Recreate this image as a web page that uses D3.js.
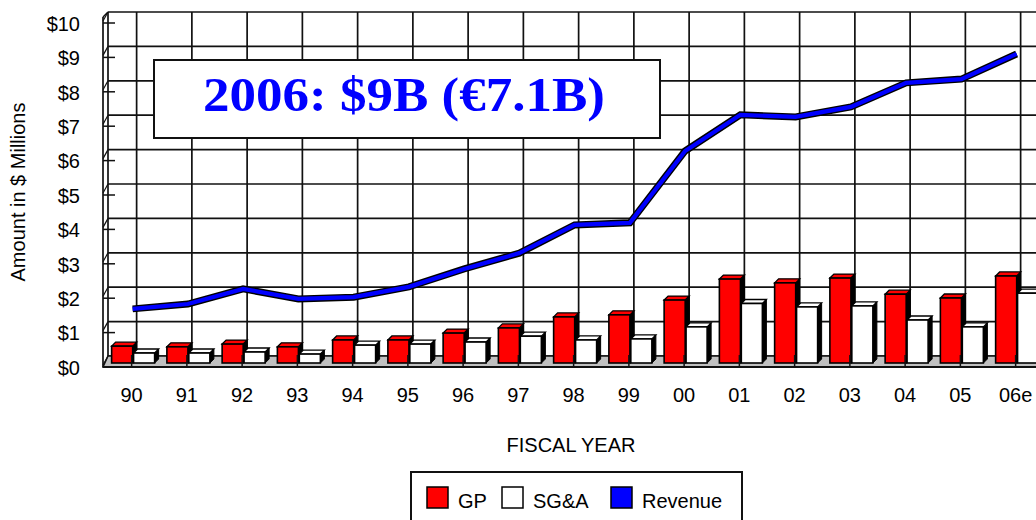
<!DOCTYPE html>
<html><head><meta charset="utf-8">
<script src="https://cdn.jsdelivr.net/npm/d3@7"></script>
<style>
html,body{margin:0;padding:0;background:#fff;overflow:hidden;}
svg{display:block;}
</style></head>
<body>
<svg id="chart" width="1036" height="520"></svg>
<script>
// ---- data ----
const years = ["90","91","92","93","94","95","96","97","98","99","00","01","02","03","04","05","06e"];
const gp = [0.49,0.47,0.55,0.47,0.67,0.67,0.87,1.02,1.34,1.40,1.83,2.44,2.33,2.47,2.00,1.89,2.53];
const sga = [0.29,0.29,0.32,0.26,0.52,0.55,0.61,0.78,0.67,0.70,1.05,1.73,1.63,1.66,1.25,1.05,2.03];
const revenue = [1.69,1.83,2.27,1.98,2.03,2.33,2.85,3.31,4.13,4.19,6.28,7.33,7.27,7.56,8.26,8.37,9.10];
const yTickValues = [0,1,2,3,4,5,6,7,8,9,10];
const yTickLabels = ["$0","$1","$2","$3","$4","$5","$6","$7","$8","$9","$10"];
const seriesNames = ["GP","SG&A","Revenue"];
const seriesColors = ["#ff0000","#ffffff","#0000ff"];
const titleText = "2006: $9B (\u20ac7.1B)";
const yTitle = "Amount in $ Millions";
const xTitle = "FISCAL YEAR";

// ---- layout ----
const svg = d3.select("#chart");
const FONT = "'Liberation Sans', Arial, sans-serif";
const x = d3.scaleBand().domain(years).range([104, 104 + 17 * 55.25]);
const cx = d => x(d) + x.bandwidth() / 2;
const y = d3.scaleLinear().domain([0, 10]).range([367, 23]);
const WX = 5, WY = -11;      // back-wall depth offset
const BY = -4;               // bar front face offset
const DX = 4, DY = -4;       // bar depth
const xSub = d3.scaleBand().domain(["GP","SG&A"]).range([-20, 23]).paddingInner(0.04);
const RIGHT = 1045;
const GRID = "#111";

// back wall grid
const grid = svg.append("g").attr("stroke", GRID).attr("stroke-width", 1.7).attr("fill", "none");
yTickValues.forEach(v => {
  grid.append("line").attr("x1", 103 + WX).attr("x2", RIGHT)
    .attr("y1", y(v) + WY).attr("y2", y(v) + WY);
});
years.forEach(d => {
  grid.append("line").attr("x1", cx(d) + WX).attr("x2", cx(d) + WX)
    .attr("y1", y(10) + WY).attr("y2", y(0) + WY);
});
grid.append("line").attr("x1", 103 + WX).attr("x2", 103 + WX).attr("y1", y(10) + WY).attr("y2", y(0) + WY);

// floor
svg.append("path")
  .attr("d", `M103,${y(0)}L${103+WX},${y(0)+WY}L${RIGHT},${y(0)+WY}L${RIGHT},${y(0)}Z`)
  .attr("fill", "#c0c0c0").attr("stroke", GRID).attr("stroke-width", 1.5);

// left front axis line + ticks
svg.append("line").attr("x1", 103).attr("x2", 103).attr("y1", y(10) - 6).attr("y2", y(0))
  .attr("stroke", GRID).attr("stroke-width", 1.7);
svg.append("line").attr("x1", 103).attr("x2", 103 + WX).attr("y1", y(10) - 6).attr("y2", y(10) + WY)
  .attr("stroke", GRID).attr("stroke-width", 1.5);
yTickValues.forEach(v => {
  svg.append("line").attr("x1", 103).attr("x2", 115).attr("y1", y(v)).attr("y2", y(v))
    .attr("stroke", GRID).attr("stroke-width", 1.5);
  svg.append("line").attr("x1", 103).attr("x2", 103 + WX).attr("y1", y(v) - 2).attr("y2", y(v) + WY)
    .attr("stroke", GRID).attr("stroke-width", 1.2);
});

// title box (behind data)
svg.append("rect").attr("x", 154).attr("y", 60).attr("width", 506).attr("height", 78)
  .attr("fill", "#fff").attr("stroke", "#111").attr("stroke-width", 2);
svg.append("text").attr("x", 404).attr("y", 111).attr("text-anchor", "middle")
  .attr("font-family", "'Liberation Serif', 'Times New Roman', serif").attr("font-weight", "bold")
  .attr("font-size", 48).attr("fill", "#0000ff")
  .attr("textLength", 402).attr("lengthAdjust", "spacingAndGlyphs")
  .text(titleText);

// bars
function bar3d(g, x0, w, v, color) {
  const yt = y(v) + BY, yb = y(0) + BY;
  g.append("path").attr("d", `M${x0+w},${yb}L${x0+w+DX},${yb+DY}L${x0+w+DX},${yt+DY}L${x0+w},${yt}Z`)
    .attr("fill", "#000").attr("stroke", "#000").attr("stroke-width", 1);
  g.append("path").attr("d", `M${x0},${yt}L${x0+DX},${yt+DY}L${x0+w+DX},${yt+DY}L${x0+w},${yt}Z`)
    .attr("fill", color).attr("stroke", "#000").attr("stroke-width", 1.3);
  g.append("rect").attr("x", x0).attr("y", yt).attr("width", w).attr("height", yb - yt)
    .attr("fill", color).attr("stroke", "#000").attr("stroke-width", 1.6);
}
const bars = svg.append("g");
years.forEach((d, i) => {
  bar3d(bars, cx(d) + xSub("GP"), xSub.bandwidth(), gp[i], seriesColors[0]);
  bar3d(bars, cx(d) + xSub("SG&A"), xSub.bandwidth(), sga[i], seriesColors[1]);
});

// front baseline and category ticks
svg.append("line").attr("x1", 103).attr("x2", RIGHT).attr("y1", y(0)).attr("y2", y(0))
  .attr("stroke", GRID).attr("stroke-width", 2);
years.forEach(d => {
  svg.append("line").attr("x1", cx(d)).attr("x2", cx(d)).attr("y1", y(0) - 12).attr("y2", y(0) + 1)
    .attr("stroke", GRID).attr("stroke-width", 1.5);
});

// revenue line
const line = d3.line().x(d => cx(d.year) + 1).y(d => y(d.v));
const revData = years.map((d, i) => ({year: d, v: revenue[i]}));
svg.append("path").datum(revData).attr("d", line).attr("fill", "none")
  .attr("stroke", "#000").attr("stroke-width", 7).attr("stroke-linejoin", "miter");
svg.append("path").datum(revData).attr("d", line).attr("fill", "none")
  .attr("stroke", seriesColors[2]).attr("stroke-width", 4.2).attr("stroke-linejoin", "miter");

// axes
const yAxis = svg.append("g").attr("transform", "translate(103,0)")
  .call(d3.axisLeft(y).tickValues(yTickValues).tickFormat((d, i) => yTickLabels[i]).tickSize(0).tickPadding(23));
yAxis.select(".domain").remove();
yAxis.selectAll("text").attr("font-family", FONT).attr("font-size", 20).attr("fill", "#000").attr("dy", "0.36em");

const xAxis = svg.append("g").attr("transform", `translate(0,${y(0)})`)
  .call(d3.axisBottom(x).tickSize(0).tickPadding(21));
xAxis.select(".domain").remove();
xAxis.selectAll("text").attr("font-family", FONT).attr("font-size", 20).attr("fill", "#000");

// axis titles
svg.append("text").attr("transform", "translate(25,192) rotate(-90)").attr("text-anchor", "middle")
  .attr("font-family", FONT).attr("font-size", 20).attr("fill", "#000").text(yTitle);
svg.append("text").attr("x", 571).attr("y", 452).attr("text-anchor", "middle")
  .attr("font-family", FONT).attr("font-size", 20).attr("fill", "#000").text(xTitle);

// legend
svg.append("rect").attr("x", 411).attr("y", 472).attr("width", 331).attr("height", 60)
  .attr("fill", "#fff").attr("stroke", "#111").attr("stroke-width", 2);
const legX = [427, 502, 611];
seriesNames.forEach((n, i) => {
  svg.append("rect").attr("x", legX[i]).attr("y", 487).attr("width", 21).attr("height", 21)
    .attr("fill", seriesColors[i]).attr("stroke", "#000").attr("stroke-width", 1.5);
  svg.append("text").attr("x", legX[i] + 31).attr("y", 508)
    .attr("font-family", FONT).attr("font-size", 20).attr("fill", "#000").text(n);
});
</script>
</body></html>
